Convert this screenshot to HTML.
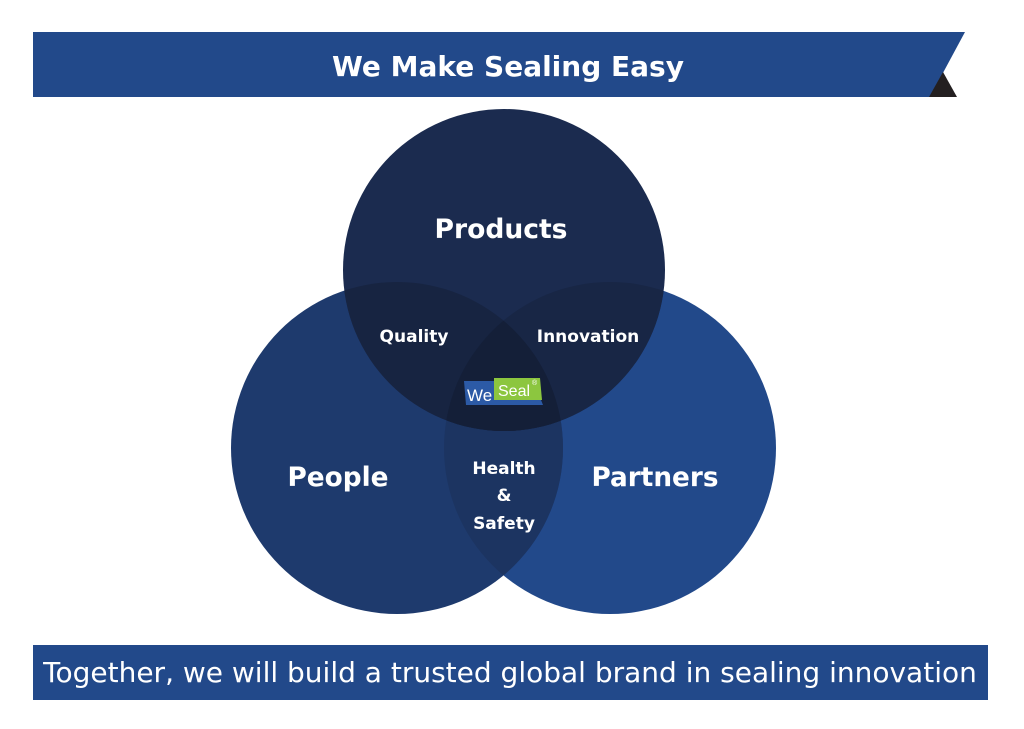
<!DOCTYPE html>
<html><head><style>
body{margin:0;background:#fff;width:1024px;height:724px;overflow:hidden;font-family:"Liberation Sans","DejaVu Sans",sans-serif;}
</style></head><body>
<svg width="1024" height="724" xmlns="http://www.w3.org/2000/svg">
<defs>
<clipPath id="cPr"><circle cx="504" cy="270" r="161"/></clipPath>
<clipPath id="cPe"><circle cx="397" cy="448" r="166"/></clipPath>
<clipPath id="cPa"><circle cx="610" cy="448" r="166"/></clipPath>
</defs>
<polygon points="33,32 965,32 930,97 33,97" fill="#22498a"/>
<polygon points="929,97 957,97 943,72" fill="#231f20"/>
<text x="508" y="76" fill="#fff" font-size="28" font-weight="bold" text-anchor="middle" font-family="DejaVu Sans, sans-serif">We Make Sealing Easy</text>
<circle cx="610" cy="448" r="166" fill="#22498a"/>
<circle cx="397" cy="448" r="166" fill="#1e3a6d"/>
<g clip-path="url(#cPa)"><circle cx="397" cy="448" r="166" fill="#1c3461"/></g>
<circle cx="504" cy="270" r="161" fill="#1b2b4f"/>
<g clip-path="url(#cPr)"><circle cx="397" cy="448" r="166" fill="#172441"/><circle cx="610" cy="448" r="166" fill="#182645"/>
<g clip-path="url(#cPe)"><circle cx="610" cy="448" r="166" fill="#141f38"/></g></g>
<g font-family="DejaVu Sans, sans-serif" font-weight="bold" fill="#fff" text-anchor="middle">
<text x="501" y="238" font-size="27" textLength="133" lengthAdjust="spacingAndGlyphs">Products</text>
<text x="338" y="486" font-size="27" textLength="101" lengthAdjust="spacingAndGlyphs">People</text>
<text x="655" y="486" font-size="27" textLength="127" lengthAdjust="spacingAndGlyphs">Partners</text>
<text x="414" y="342" font-size="17">Quality</text>
<text x="588" y="342" font-size="17">Innovation</text>
<text x="504" y="474" font-size="17">Health</text>
<text x="504" y="501" font-size="17">&amp;</text>
<text x="504" y="529" font-size="17">Safety</text>
</g>
<polygon points="464,381 500,381 500,400 541,400 543,405 466,405" fill="#2c5aa6"/>
<polygon points="494,378 540,378 542,400 494,400" fill="#8cc63f"/>
<text x="467" y="401" fill="#fff" font-size="17">We</text>
<text x="498" y="396" fill="#fff" font-size="16">Seal</text>
<text x="532" y="385" fill="#fff" font-size="7">®</text>
<rect x="33" y="645" width="955" height="55" fill="#22498a"/>
<text x="510" y="682" fill="#fff" font-size="28" text-anchor="middle" font-family="DejaVu Sans, sans-serif">Together, we will build a trusted global brand in sealing innovation</text>
</svg>
</body></html>
